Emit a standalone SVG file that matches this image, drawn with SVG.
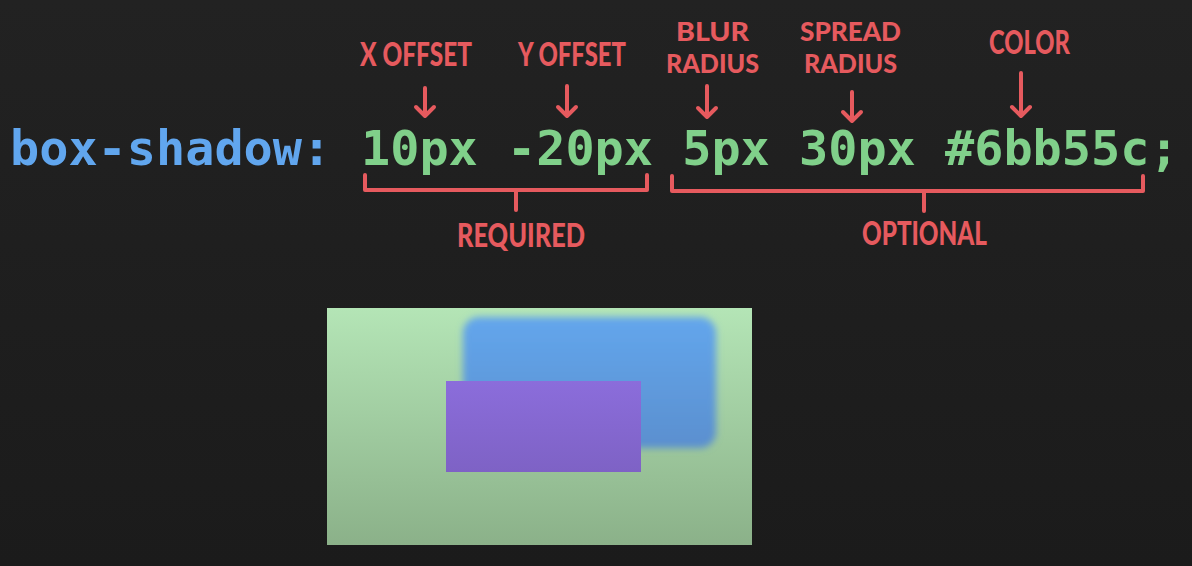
<svg xmlns="http://www.w3.org/2000/svg" width="1192" height="566" viewBox="0 0 1192 566">
<defs>
<linearGradient id="bg" x1="0" y1="0" x2="0" y2="1"><stop offset="0" stop-color="#222222"/><stop offset="1" stop-color="#1b1b1b"/></linearGradient>
<linearGradient id="gbox" x1="0" y1="0" x2="0" y2="1"><stop offset="0" stop-color="#b4e5b6"/><stop offset="1" stop-color="#8bb189"/></linearGradient>
<linearGradient id="bbox" x1="0" y1="0" x2="0" y2="1"><stop offset="0" stop-color="#63a6ec"/><stop offset="1" stop-color="#5a8fcf"/></linearGradient>
<linearGradient id="pbox" x1="0" y1="0" x2="0" y2="1"><stop offset="0" stop-color="#8b6ddb"/><stop offset="1" stop-color="#7e62c5"/></linearGradient>
<filter id="blur" x="-10%" y="-10%" width="120%" height="120%"><feGaussianBlur stdDeviation="3.5"/></filter>
</defs>
<style>
.code{font-family:"DejaVu Sans Mono","Liberation Mono",monospace;font-weight:bold;font-size:48.5px;white-space:pre}
.lbl{font-family:Lato,"Open Sans",sans-serif;font-weight:900;font-size:33px;fill:#e65a5e}
.lbl2{font-size:26.5px}
.ln{stroke:#e65a5e;stroke-width:4;fill:none;stroke-linecap:round;stroke-linejoin:round}
</style>
<rect width="1192" height="566" fill="url(#bg)"/>
<g id="code">
<text class="code" x="10" y="165" fill="#61a6ee">box-shadow:</text>
<text class="code" x="361" y="165" fill="#80d08a" xml:space="preserve">10px -20px 5px 30px #6bb55c;</text>
</g>
<g id="connectors">
<path class="ln" d="M425 88V116M416 107L425 116L434 107"/>
<path class="ln" d="M567 86V116M558 107L567 116L576 107"/>
<path class="ln" d="M707 86V117M698 108L707 117L716 108"/>
<path class="ln" d="M852 92V121M843 112L852 121L861 112"/>
<path class="ln" d="M1021 73V116M1012 107L1021 116L1030 107"/>
<path class="ln" d="M365 175V190H647V175M516 190V210"/>
<path class="ln" d="M672 176V191H1143V176M924 191V211"/>
</g>
<g id="x-offset"><text class="lbl" x="360" y="66" textLength="112" lengthAdjust="spacingAndGlyphs">X OFFSET</text></g>
<g id="y-offset"><text class="lbl" x="518" y="66" textLength="108" lengthAdjust="spacingAndGlyphs">Y OFFSET</text></g>
<g id="blur-radius">
<text class="lbl lbl2" x="676" y="41" textLength="73" lengthAdjust="spacingAndGlyphs">BLUR</text>
<text class="lbl lbl2" x="666" y="73" textLength="93" lengthAdjust="spacingAndGlyphs">RADIUS</text>
</g>
<g id="spread-radius">
<text class="lbl lbl2" x="800" y="41" textLength="101" lengthAdjust="spacingAndGlyphs">SPREAD</text>
<text class="lbl lbl2" x="804" y="73" textLength="93" lengthAdjust="spacingAndGlyphs">RADIUS</text>
</g>
<g id="color"><text class="lbl" x="989" y="54" textLength="81" lengthAdjust="spacingAndGlyphs">COLOR</text></g>
<g id="required"><text class="lbl" x="457" y="247" textLength="128" lengthAdjust="spacingAndGlyphs">REQUIRED</text></g>
<g id="optional"><text class="lbl" x="862" y="245" textLength="125" lengthAdjust="spacingAndGlyphs">OPTIONAL</text></g>
<g id="preview">
<rect x="327" y="308" width="425" height="237" fill="url(#gbox)"/>
<rect x="463" y="317" width="253" height="131" rx="16" fill="url(#bbox)" filter="url(#blur)"/>
<rect x="446" y="381" width="195" height="91" fill="url(#pbox)"/>
</g>
</svg>
